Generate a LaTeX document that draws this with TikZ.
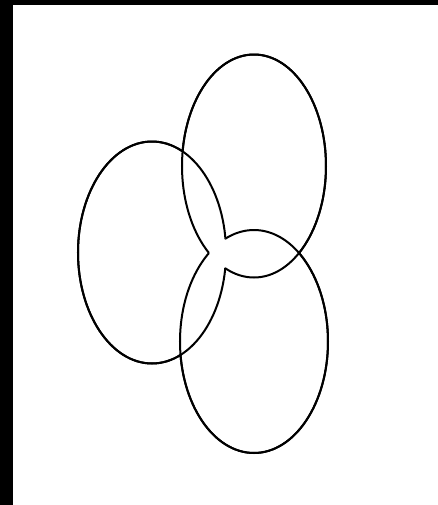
\documentclass[tikz,border=0pt]{standalone}
\begin{document}
\begin{tikzpicture}[x=0.5pt,y=-0.5pt,
  ell/.style={line width=1pt, draw=black}]
\useasboundingbox (0,0) rectangle (438,505);
\fill[white] (0,0) rectangle (438,505);
\fill[black] (0,0) rectangle (13,505);
\fill[black] (0,0) rectangle (438,5);
% ellipses: T top, L left, B bottom
\coordinate (T) at (254,166);
\coordinate (L) at (152,252.5);
\coordinate (B) at (254,341.5);
% Top ellipse, outside the intersection of L and B
\begin{scope}[even odd rule]
  \clip (-10,-10) rectangle (450,520) (L) ellipse [x radius=74, y radius=111];
  \draw[ell] (T) ellipse [x radius=72, y radius=111.5];
\end{scope}
\begin{scope}[even odd rule]
  \clip (-10,-10) rectangle (450,520) (B) ellipse [x radius=74, y radius=111.5];
  \draw[ell] (T) ellipse [x radius=72, y radius=111.5];
\end{scope}
% Left ellipse, outside the intersection of T and B
\begin{scope}[even odd rule]
  \clip (-10,-10) rectangle (450,520) (T) ellipse [x radius=72, y radius=111.5];
  \draw[ell] (L) ellipse [x radius=74, y radius=111];
\end{scope}
\begin{scope}[even odd rule]
  \clip (-10,-10) rectangle (450,520) (B) ellipse [x radius=74, y radius=111.5];
  \draw[ell] (L) ellipse [x radius=74, y radius=111];
\end{scope}
% Bottom ellipse, outside the intersection of T and L
\begin{scope}[even odd rule]
  \clip (-10,-10) rectangle (450,520) (T) ellipse [x radius=72, y radius=111.5];
  \draw[ell] (B) ellipse [x radius=74, y radius=111.5];
\end{scope}
\begin{scope}[even odd rule]
  \clip (-10,-10) rectangle (450,520) (L) ellipse [x radius=74, y radius=111];
  \draw[ell] (B) ellipse [x radius=74, y radius=111.5];
\end{scope}
\end{tikzpicture}
\end{document}
